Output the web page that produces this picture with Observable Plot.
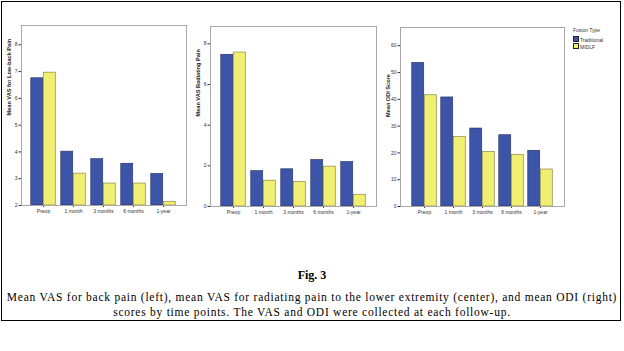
<!DOCTYPE html>
<html><head><meta charset="utf-8">
<script src="https://cdn.jsdelivr.net/npm/d3@7"></script>
<script src="https://cdn.jsdelivr.net/npm/@observablehq/plot@0.6"></script>
<style>
body{margin:0;background:#fff;}
#wrap{position:relative;width:624px;height:351px;overflow:hidden;background:#fff;}
#border{position:absolute;left:1px;top:1px;width:618px;height:318px;border:1.5px solid #000;}
.panel{position:absolute;top:0;}
.panel svg{overflow:visible;}
#legend{position:absolute;left:573px;top:28px;font-family:"Liberation Sans",Arial,sans-serif;font-size:5px;color:#333;line-height:5.5px;}
#legend .sw{display:inline-block;width:4px;height:4px;border:0.5px solid #222;margin-right:1px;vertical-align:-0.5px;}
#fig{position:absolute;left:0;top:268px;width:624px;text-align:center;font-family:"Liberation Serif","Times New Roman",serif;font-size:12px;font-weight:bold;color:#000;}
#caption{position:absolute;left:0;top:290px;width:624px;text-align:center;font-family:"Liberation Serif","Times New Roman",serif;font-size:11.5px;line-height:15px;letter-spacing:0.75px;color:#000;white-space:nowrap;}
</style></head>
<body><div id="wrap"><div id="border"></div><div id="p1" class="panel"></div><div id="p2" class="panel"></div><div id="p3" class="panel"></div><div id="legend"></div><div id="fig"></div><div id="caption"></div></div>
<script>
const categories = ["Preop", "1 month", "3 months", "6 months", "1-year"];
const fusionTypes = ["Traditional", "MIDLF"];
const backTraditional = [6.75, 4.01, 3.73, 3.56, 3.18];
const backMIDLF = [6.96, 3.19, 2.82, 2.82, 2.14];
const radTraditional = [7.46, 1.74, 1.83, 2.29, 2.19];
const radMIDLF = [7.57, 1.27, 1.20, 1.96, 0.58];
const odiTraditional = [53.6, 40.7, 29.1, 26.6, 20.8];
const odiMIDLF = [41.5, 25.9, 20.4, 19.3, 13.8];
const backTicks = [2, 3, 4, 5, 6, 7, 8];
const radTicks = [0, 2, 4, 6, 8];
const odiTicks = [0, 10, 20, 30, 40, 50, 60];
const titles = ["Mean VAS for Low-back Pain", "Mean VAS Radiating Pain", "Mean ODI Score"];
const legendTitle = "Fusion Type";
const figLabel = "Fig. 3";
const captionLines = [
  "Mean VAS for back pain (left), mean VAS for radiating pain to the lower extremity (center), and mean ODI (right)",
  "scores by time points. The VAS and ODI were collected at each follow-up."
];

const colors = {Traditional: "#3d55a8", MIDLF: "#f0ef72"};
const strokes = {Traditional: "#27305e", MIDLF: "#77763a"};
const FONT = "Liberation Sans, Arial, sans-serif";

function makePanel(el, left, opts) {
  const {trad, midlf, ticks, domain, title, mt, mb, mr} = opts;
  const rows = [];
  categories.forEach((c, i) => {
    rows.push({cat: c, type: "Traditional", value: trad[i]});
    rows.push({cat: c, type: "MIDLF", value: midlf[i]});
  });
  const base = domain[0];
  const half = 6.25;
  const chart = Plot.plot({
    width: 200, height: 225,
    marginLeft: 21, marginRight: mr, marginTop: mt, marginBottom: mb,
    style: {fontFamily: FONT, fontSize: "5px", color: "#333", background: "transparent"},
    x: {type: "band", domain: categories, paddingInner: 0.586, paddingOuter: 0.53, label: null, tickSize: 2, tickPadding: 2},
    y: {domain, ticks, tickSize: 2.5, tickPadding: 1.5, label: null, tickFormat: d => d},
    marks: [
      Plot.barY(rows.filter(d => d.type === "Traditional"), {x: "cat", y1: base, y2: "value", fill: colors.Traditional, stroke: strokes.Traditional, strokeWidth: 0.6, dx: -half}),
      Plot.barY(rows.filter(d => d.type === "MIDLF"), {x: "cat", y1: base, y2: "value", fill: colors.MIDLF, stroke: strokes.MIDLF, strokeWidth: 0.6, dx: half}),
      Plot.frame({stroke: "#a8a8a8", strokeWidth: 1}),
      Plot.ruleX([0], {frameAnchor: "left", stroke: "#808080"}),
      Plot.text([title], {frameAnchor: "left", rotate: -90, dx: -12, fontWeight: "bold", fontSize: 5.6, fill: "#222"})
    ]
  });
  el.style.left = left + "px";
  el.appendChild(chart);
}

makePanel(document.getElementById("p1"), 0, {trad: backTraditional, midlf: backMIDLF, ticks: backTicks, domain: [2, 8.72], title: titles[0], mt: 25, mb: 20, mr: 14});
makePanel(document.getElementById("p2"), 189, {trad: radTraditional, midlf: radMIDLF, ticks: radTicks, domain: [0, 8.85], title: titles[1], mt: 26, mb: 19, mr: 13});
makePanel(document.getElementById("p3"), 379, {trad: odiTraditional, midlf: odiMIDLF, ticks: odiTicks, domain: [0, 66.8], title: titles[2], mt: 27, mb: 19, mr: 15});

const lg = document.getElementById("legend");
lg.innerHTML = `<div style="margin-bottom:2px">${legendTitle}</div>` +
  fusionTypes.map(t => `<div><span class="sw" style="background:${colors[t]}"></span>${t}</div>`).join("");
document.getElementById("fig").textContent = figLabel;
document.getElementById("caption").innerHTML = captionLines.join("<br>");
</script>
</body></html>
